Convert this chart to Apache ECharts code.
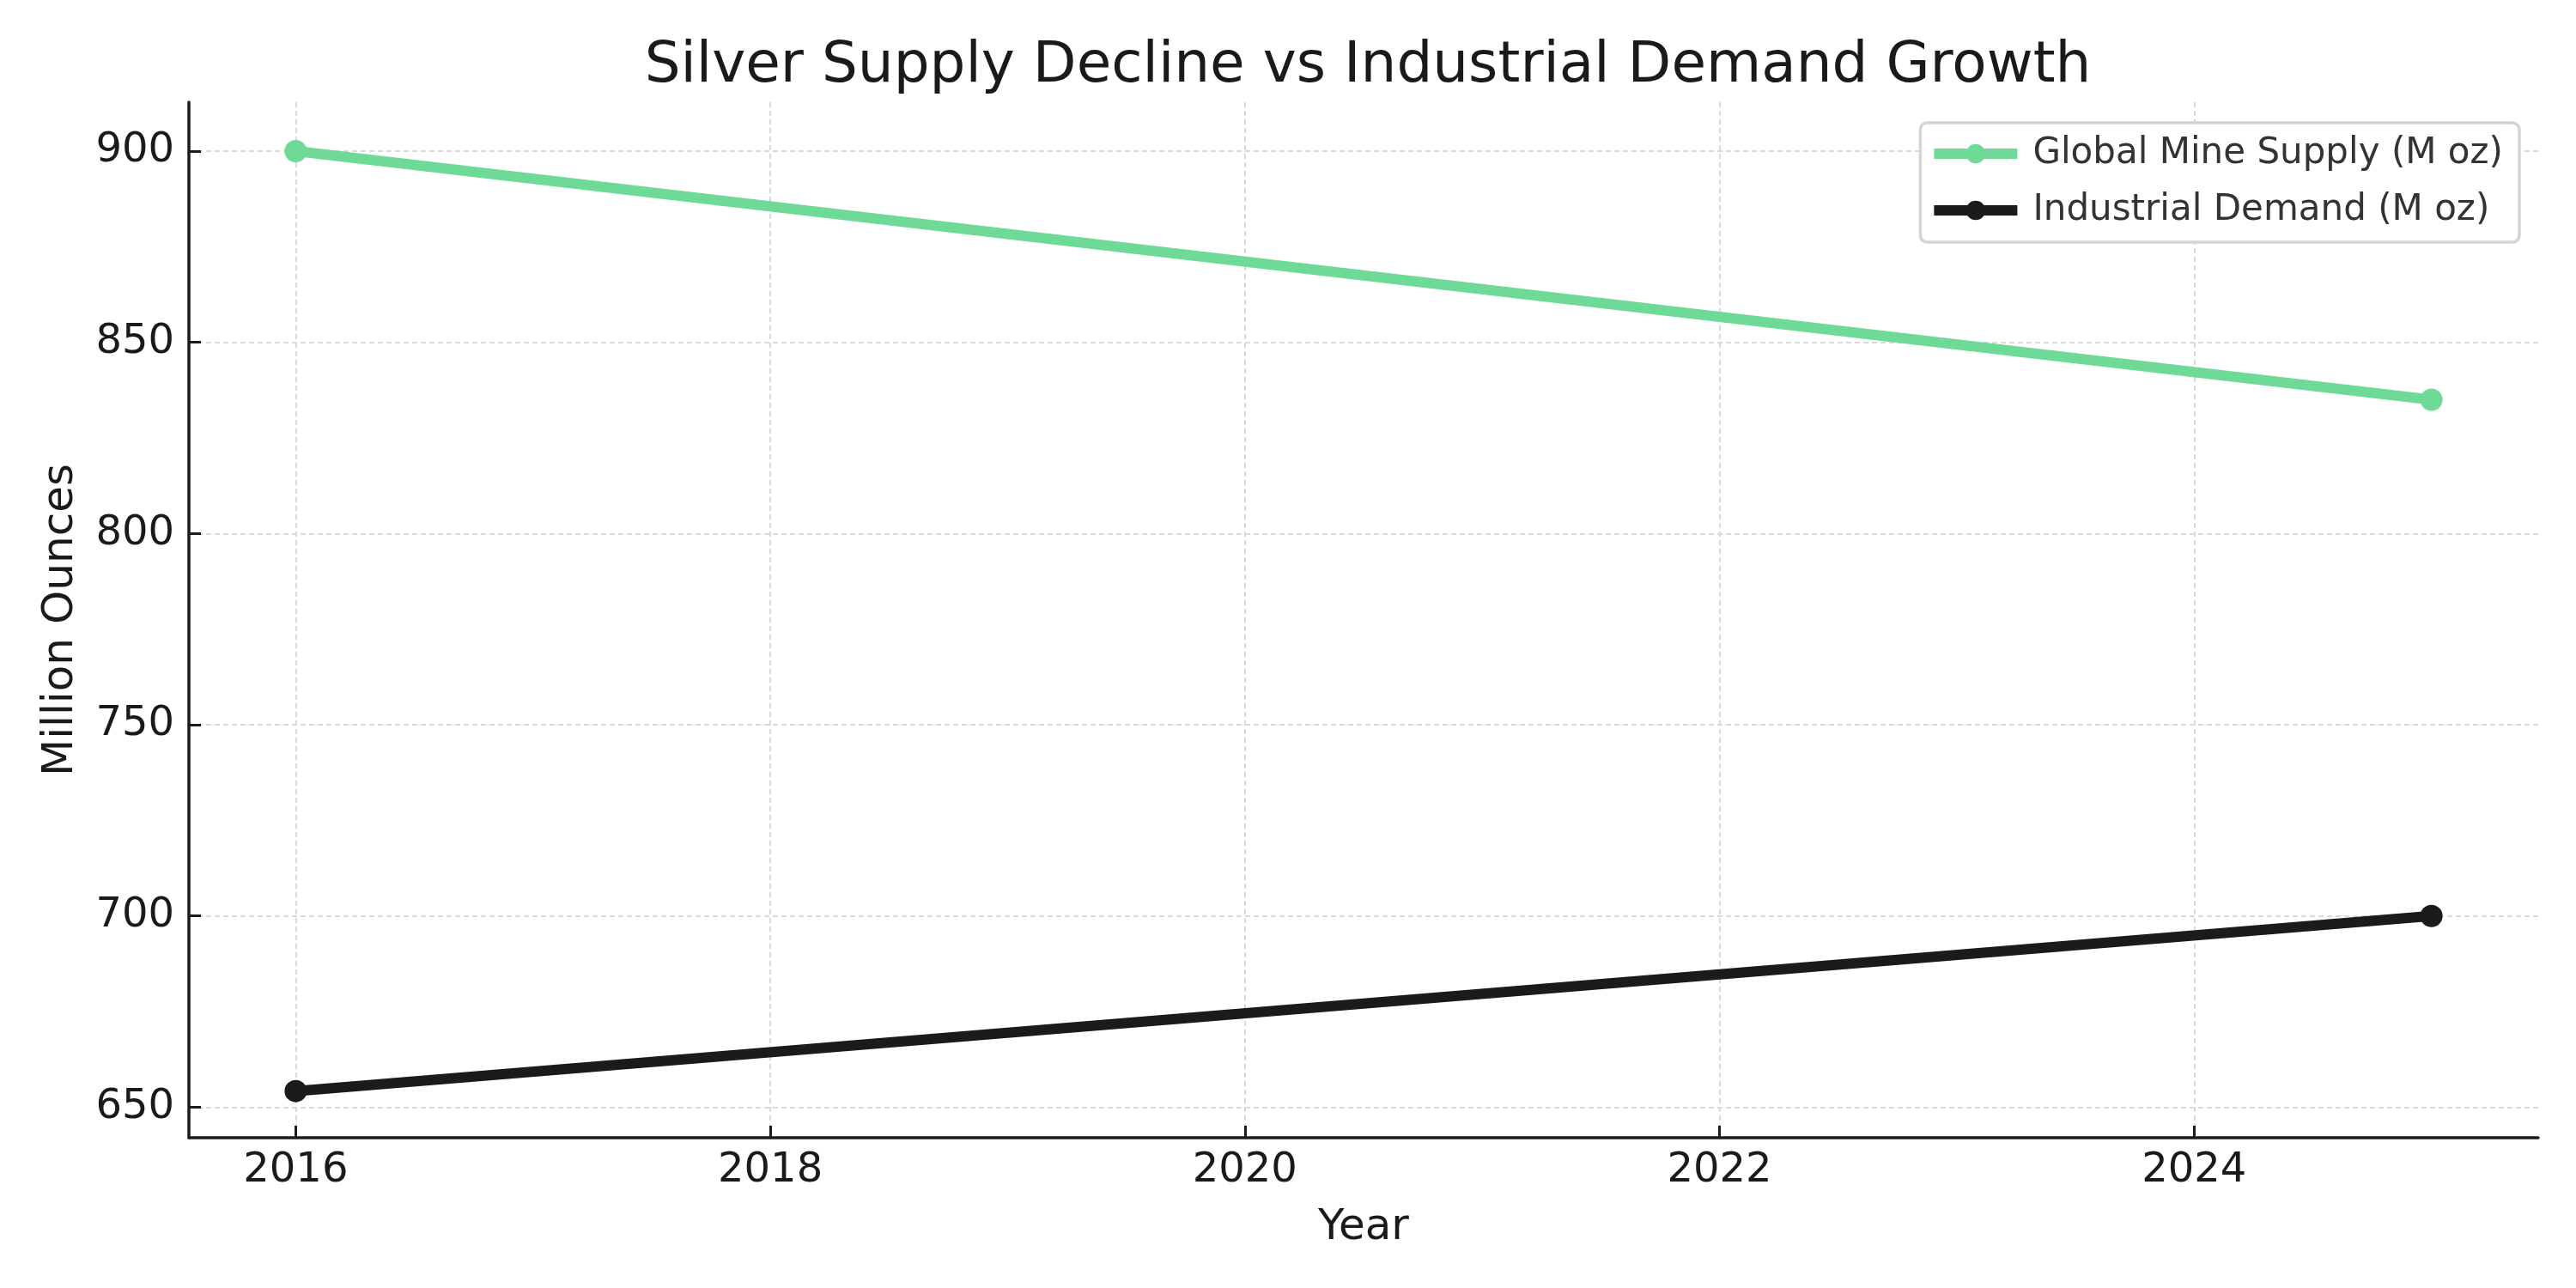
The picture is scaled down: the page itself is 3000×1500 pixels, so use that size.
<!DOCTYPE html>
<html>
<head>
<meta charset="utf-8">
<script src="https://cdn.jsdelivr.net/npm/echarts@6/dist/echarts.min.js"></script>
<style>
html,body{margin:0;padding:0;background:#fff;}
#chart{width:3000px;height:1500px;}
</style>
</head>
<body>
<div id="chart"></div>
<script>
const years = [2016, 2025];
const mineSupply = [900, 835];
const industrialDemand = [654.2, 700];
const xTicks = [2016, 2018, 2020, 2022, 2024];
const yTicks = [650, 700, 750, 800, 850, 900];
const seriesNames = ['Global Mine Supply (M oz)', 'Industrial Demand (M oz)'];
const titleText = 'Silver Supply Decline vs Industrial Demand Growth';

const FONT = 'DejaVu Sans';
const green = '#6fd998';
const dark = '#1b1b1b';

const chart = echarts.init(document.getElementById('chart'), null, {renderer: 'canvas'});
const gridLine = {show: true, lineStyle: {color: '#d9d9d9', width: 2, type: [6, 4]}};

chart.setOption({
  backgroundColor: '#ffffff',
  animation: false,
  title: {
    text: titleText,
    left: 1588, textAlign: 'center', top: 40,
    textStyle: {fontFamily: FONT, fontSize: 66, fontWeight: 'normal', color: '#1a1a1a'}
  },
  legend: {
    orient: 'vertical',
    right: 66, top: 143,
    padding: [15, 19, 16, 10],
    itemGap: 24,
    itemWidth: 97, itemHeight: 28,
    backgroundColor: '#ffffff',
    borderColor: '#d4d4d4', borderWidth: 3.5, borderRadius: 8,
    lineStyle: {width: 12},
    textStyle: {fontFamily: FONT, fontSize: 42, color: '#333333', padding: [0, 0, 0, 13]},
    data: seriesNames
  },
  grid: {left: 220, right: 44, top: 119, bottom: 175, containLabel: false},
  xAxis: {
    type: 'value',
    min: 2015.55, max: 2025.45,
    name: 'Year', nameLocation: 'middle', nameGap: 80,
    nameTextStyle: {fontFamily: FONT, fontSize: 50, color: '#1a1a1a'},
    axisLine: {show: true, lineStyle: {color: dark, width: 3.5}},
    axisTick: {show: true, inside: true, length: 14, lineStyle: {color: dark, width: 3}, customValues: xTicks},
    axisLabel: {fontFamily: FONT, fontSize: 48, color: '#1a1a1a', margin: 15, customValues: xTicks, formatter: v => String(v)},
    splitLine: gridLine
  },
  yAxis: {
    type: 'value',
    min: 642, max: 912.8,
    name: 'Million Ounces', nameLocation: 'middle', nameGap: 124,
    nameTextStyle: {fontFamily: FONT, fontSize: 50, color: '#1a1a1a'},
    axisLine: {show: true, lineStyle: {color: dark, width: 3.5}},
    axisTick: {show: true, inside: true, length: 14, lineStyle: {color: dark, width: 3}, customValues: yTicks},
    axisLabel: {fontFamily: FONT, fontSize: 48, color: '#1a1a1a', margin: 17, customValues: yTicks},
    splitLine: gridLine
  },
  series: [
    {
      name: seriesNames[0], type: 'line',
      data: years.map((y, i) => [y, mineSupply[i]]),
      symbol: 'circle', symbolSize: 26,
      lineStyle: {color: green, width: 12},
      itemStyle: {color: green}
    },
    {
      name: seriesNames[1], type: 'line',
      data: years.map((y, i) => [y, industrialDemand[i]]),
      symbol: 'circle', symbolSize: 26,
      lineStyle: {color: dark, width: 12},
      itemStyle: {color: dark}
    }
  ]
});
</script>
</body>
</html>
